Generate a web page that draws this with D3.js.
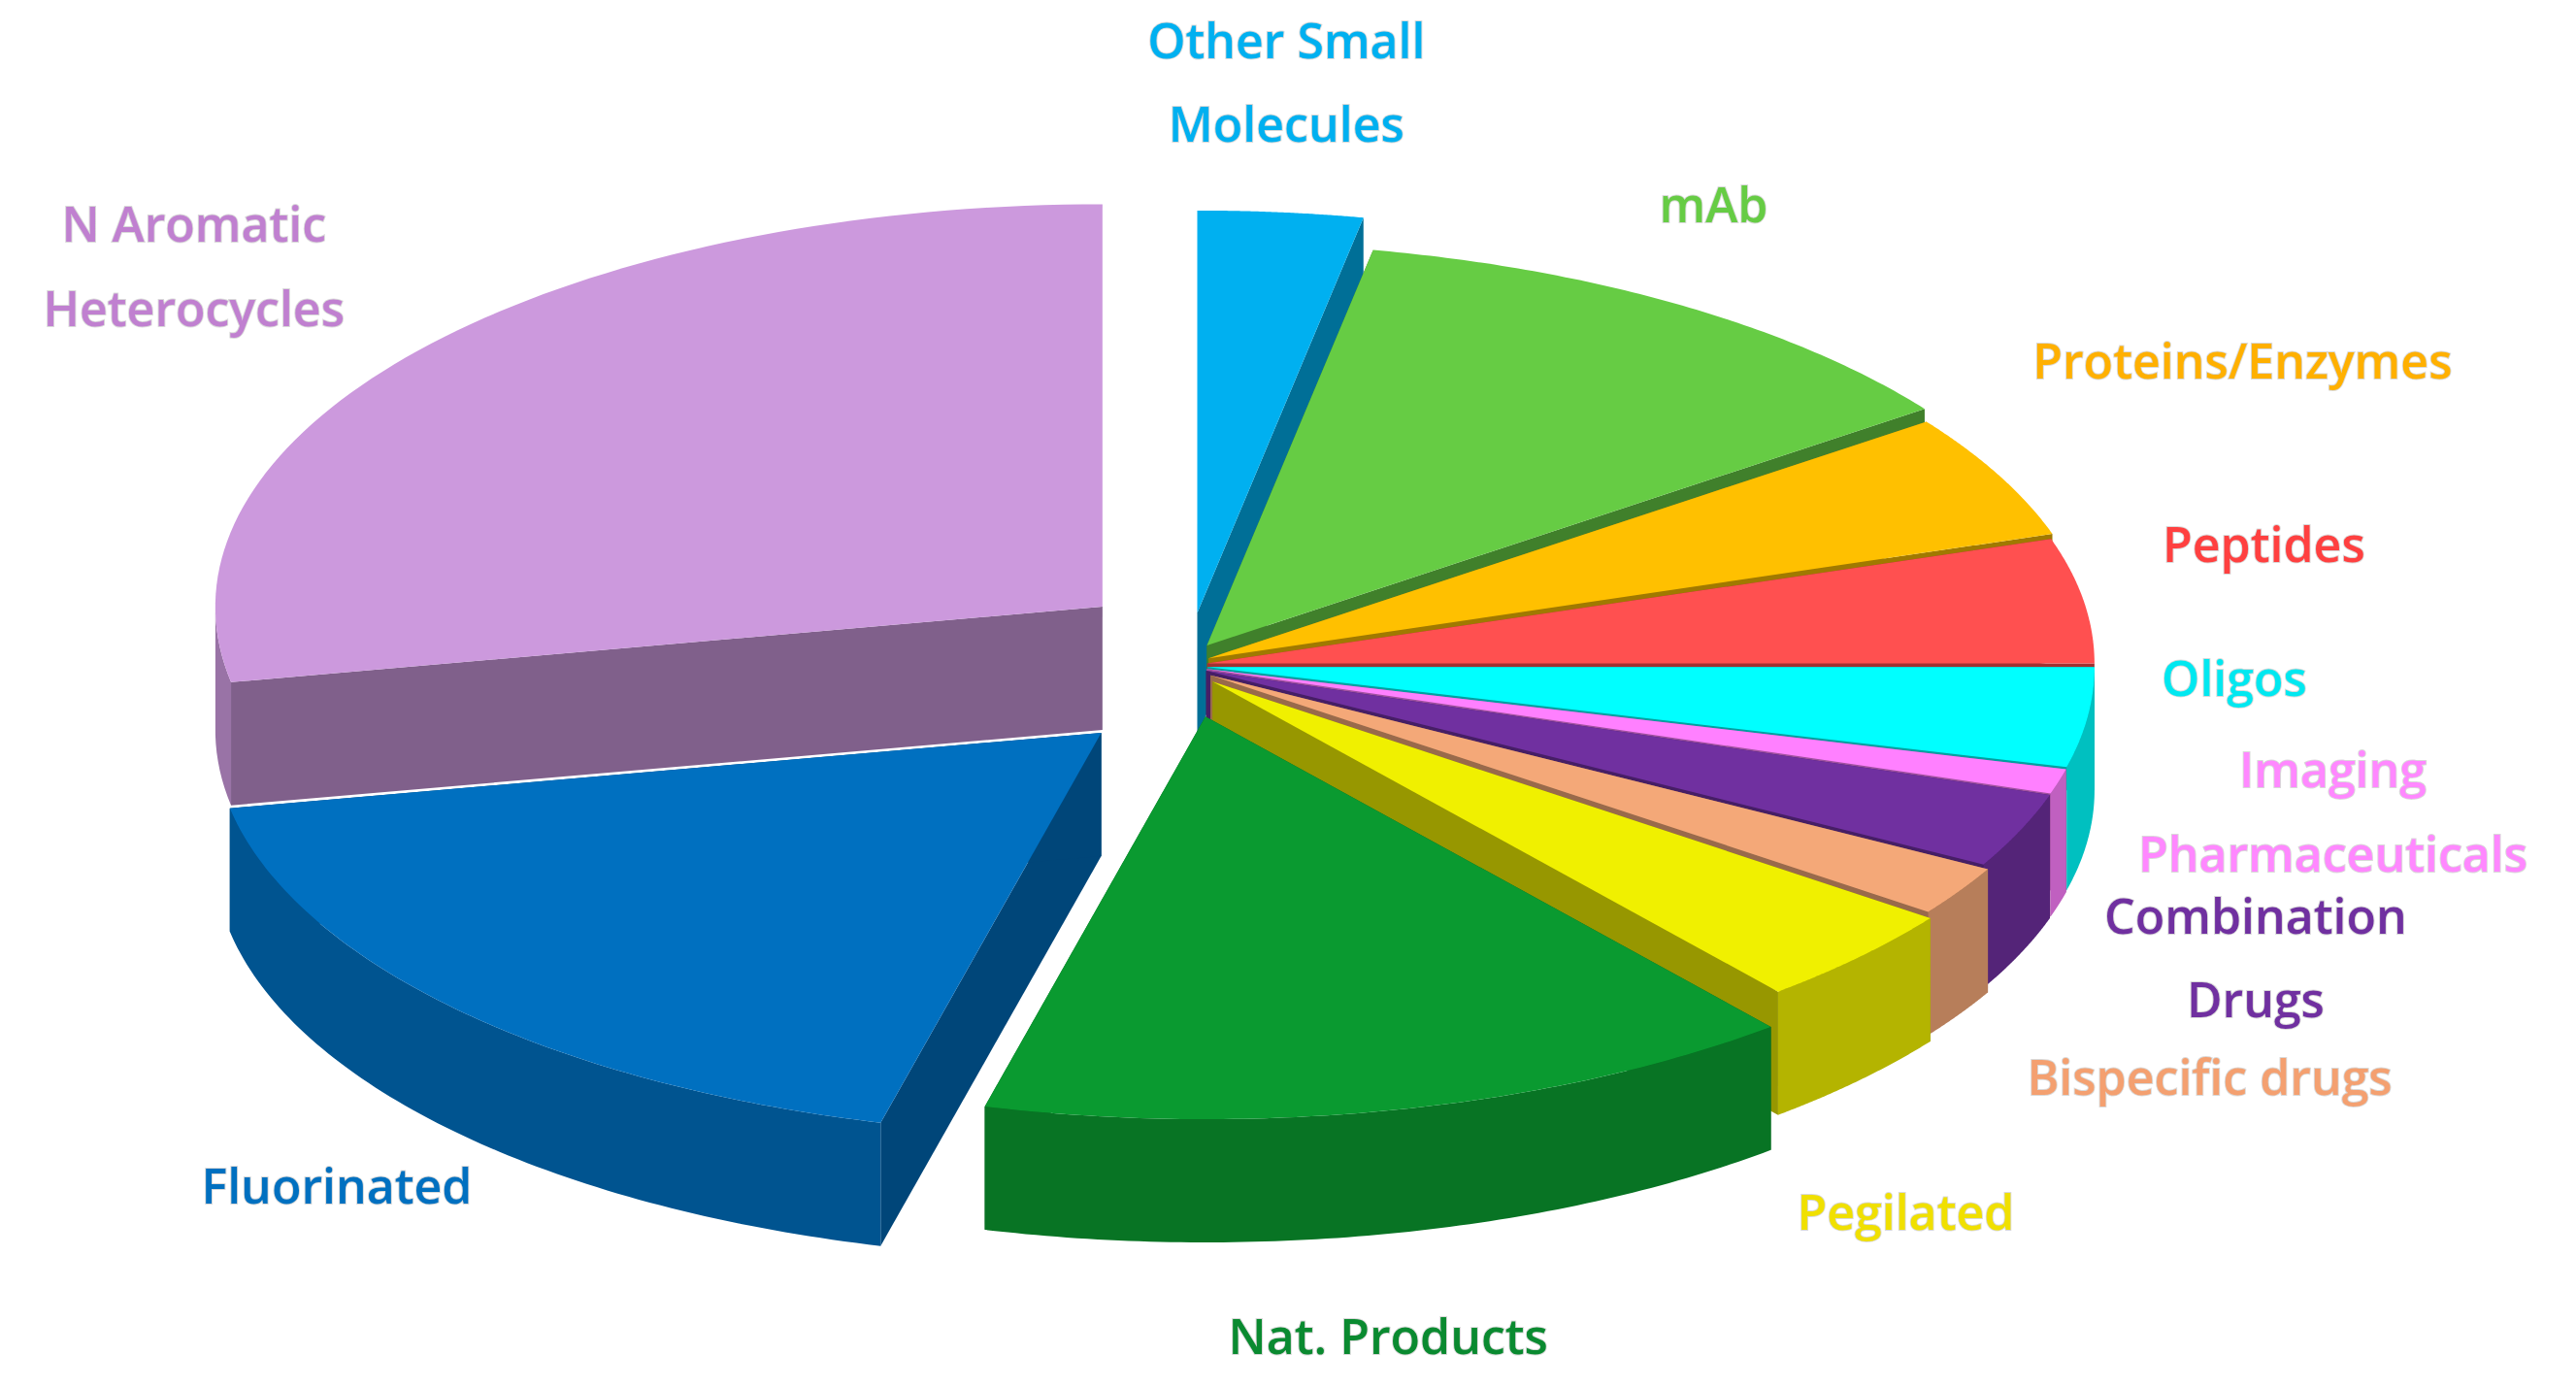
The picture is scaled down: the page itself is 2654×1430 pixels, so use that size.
<!DOCTYPE html>
<html><head><meta charset="utf-8">
<script src="https://cdn.jsdelivr.net/npm/d3@7"></script>
<style>body{margin:0;background:#fff}</style></head>
<body><svg id="c" width="2654" height="1430"></svg>
<script>
const categories=["Other Small Molecules","mAb","Proteins/Enzymes","Peptides","Oligos","Imaging Pharmaceuticals","Combination Drugs","Bispecific  drugs","Pegilated","Nat. Products","Fluorinated","N Aromatic Heterocycles"];
const values=[3,12,5,5,4,1,3,2,4,15,18,28];
const colors=["#00b0f0","#66cc44","#ffc000","#ff5050","#00ffff","#ff80ff","#7030a0","#f4a878","#f0f000","#0a9a30","#0070c0","#cc99dd"];
const textColors=["#00b0f0","#66cc44","#ffb000","#ff4040","#00e8f0","#ff88ff","#7030a0","#f4a070","#f0e000","#0a8a30","#0070c0","#c080d0"];
const explode=[40,18,12,10,10,10,10,14,18,40,75,70];
const labelLines=[["Other Small","Molecules"],["mAb"],["Proteins/Enzymes"],["Peptides"],["Oligos"],["Imaging","Pharmaceuticals"],["Combination","Drugs"],["Bispecific  drugs"],["Pegilated"],["Nat. Products"],["Fluorinated"],["N Aromatic","Heterocycles"]];
const labelPos=[[783,25],[1043,125],[1365,220],[1378,332],[1360,413],[1420,469],[1373,558],[1345,656],[1160,738],[845,814],[205,722],[118,137]];
const S=2654/1568;
const svg=d3.select("#c");
const cx=725*S, cy=405*S, rx=540*S, ry=245*S, depth=75*S;
const pie=d3.pie().sort(null).value(d=>d)(values);
const P=(a,ox,oy,r=1,dz=0)=>[cx+ox+rx*r*Math.sin(a), cy+oy-ry*r*Math.cos(a)+dz];
const sl=pie.map((p,i)=>{const m=(p.startAngle+p.endAngle)/2;const e=explode[i]*S;return {p,i,m,ox:e*Math.sin(m),oy:-e*Math.cos(m)*0.8};});
sl.sort((a,b)=>(-Math.cos(a.m)+a.oy/ry)-(-Math.cos(b.m)+b.oy/ry));
const line=d3.line();
sl.forEach(s=>{
 const c=d3.color(colors[s.i]);const g=svg.append("g");
 const a0=s.p.startAngle,a1=s.p.endAngle,n=80;
 const arcPts=(dz)=>d3.range(n+1).map(k=>P(a0+(a1-a0)*k/n,s.ox,s.oy,1,dz));
 const C=[cx+s.ox,cy+s.oy];
 [a0,a1].forEach(a=>{
  const t=P(a,s.ox,s.oy),b=P(a,s.ox,s.oy,1,depth);
  g.append("path").attr("d",line([C,t,b,[C[0],C[1]+depth]])+"Z").attr("fill",c.darker(1.3));
 });
 const segs=[];let cur=[];
 for(let k=0;k<=n;k++){const a=a0+(a1-a0)*k/n;if(Math.cos(a)<0.02)cur.push(a);else if(cur.length){segs.push(cur);cur=[];}}
 if(cur.length)segs.push(cur);
 segs.forEach(sg=>{const top=sg.map(a=>P(a,s.ox,s.oy));const bot=sg.map(a=>P(a,s.ox,s.oy,1,depth)).reverse();
  g.append("path").attr("d",line(top.concat(bot))+"Z").attr("fill",c.darker(0.8));});
 g.append("path").attr("d",line([C].concat(arcPts(0)))+"Z").attr("fill",c.toString());
});
labelLines.forEach((ls,i)=>{
 const [x,y]=labelPos[i];
 ls.forEach((t,j)=>svg.append("text").attr("x",x*S).attr("y",(y+j*51)*S).attr("dy","0.35em")
  .attr("text-anchor","middle").attr("font-family","Open Sans, sans-serif").attr("font-weight",600)
  .attr("font-size",50).attr("fill",textColors[i])
  .style("paint-order","stroke").attr("stroke","rgba(0,0,0,0.15)").attr("stroke-width",2).text(t));
});
</script></body></html>
